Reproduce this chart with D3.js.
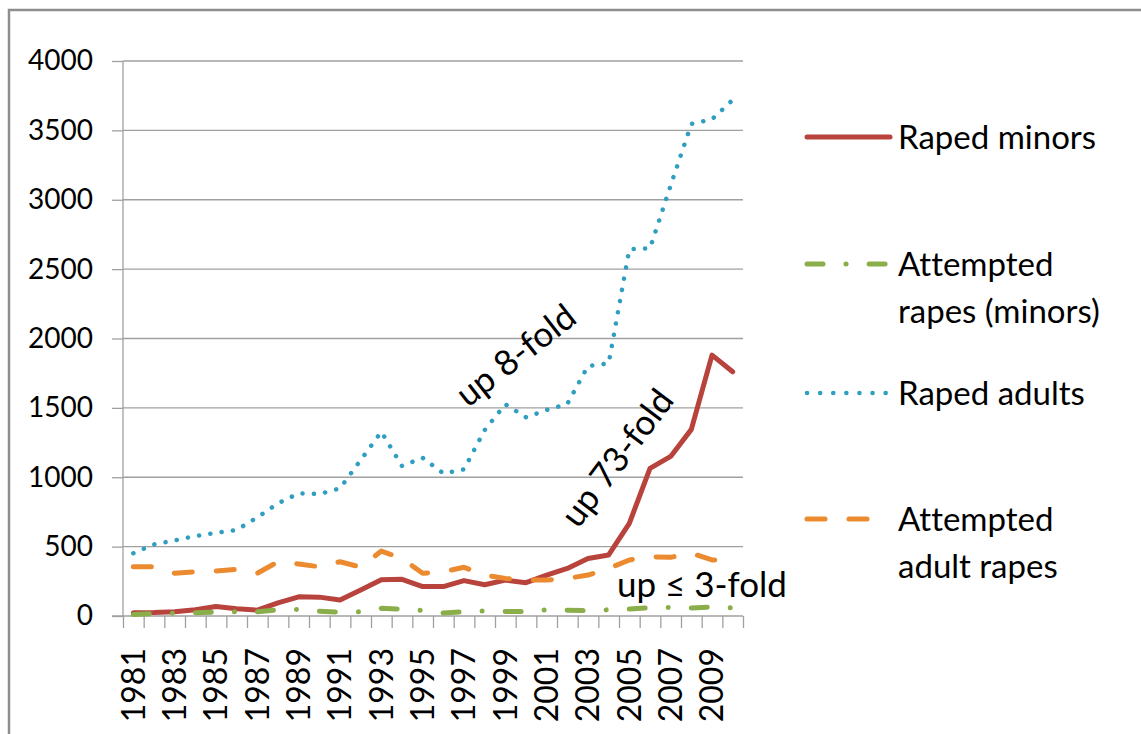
<!DOCTYPE html>
<html>
<head>
<meta charset="utf-8">
<script src="https://cdn.jsdelivr.net/npm/d3@7/dist/d3.min.js"></script>
<style>
  body { margin: 0; background: #fff; }
  text { font-family: Lato, "Open Sans", sans-serif; fill: #000; font-variant-ligatures: none; }
</style>
</head>
<body>
<svg class="chart" width="1141" height="734"></svg>
<script>
var years = [1981, 1982, 1983, 1984, 1985, 1986, 1987, 1988, 1989, 1990,
             1991, 1992, 1993, 1994, 1995, 1996, 1997, 1998, 1999, 2000,
             2001, 2002, 2003, 2004, 2005, 2006, 2007, 2008, 2009, 2010];

var rapedMinors = [24, 25, 30, 45, 68, 52, 42, 95, 138, 136,
                   115, 187, 262, 264, 212, 212, 255, 225, 259, 240,
                   295, 343, 415, 440, 668, 1064, 1150, 1345, 1880, 1760];

var attemptedMinors = [10, 18, 20, 24, 28, 30, 30, 45, 48, 35,
                       28, 30, 55, 50, 40, 22, 30, 36, 32, 32,
                       45, 42, 38, 45, 50, 60, 62, 58, 65, 58];

var rapedAdults = [452, 516, 545, 576, 600, 620, 711, 812, 884, 879,
                   920, 1124, 1328, 1081, 1140, 1028, 1057, 1340, 1526, 1432,
                   1485, 1528, 1802, 1821, 2643, 2650, 3104, 3546, 3580, 3719];

var attemptedAdults = [355, 355, 308, 319, 325, 336, 308, 391, 375, 355,
                       391, 352, 468, 415, 308, 319, 351, 295, 271, 259,
                       259, 271, 295, 343, 404, 427, 423, 452, 404, 404];

var seriesNames = ["Raped minors", "Attempted rapes (minors)", "Raped adults", "Attempted adult rapes"];
var yTicks = [0, 500, 1000, 1500, 2000, 2500, 3000, 3500, 4000];

// annotation text: [label, year position, value position, angle]
var notes = [
  ["up 8-fold", 1999.5, 1880, -38],
  ["up 73-fold", 2004.4, 1140, -53]
];

var svg = d3.select(".chart"),
    plotLeft = 123, plotRight = 743, plotTop = 61, plotBottom = 616;

var x = d3.scaleBand().domain(years).range([plotLeft, plotRight]).padding(0);
var xYear = d3.scaleLinear().domain([1980.5, 2010.5]).range([plotLeft, plotRight]);
var y = d3.scaleLinear().domain([0, 4000]).range([plotBottom, plotTop]);

function cx(d) { return x(d) + x.bandwidth() / 2; }

// outer frame
svg.append("rect")
    .attr("x", 9).attr("y", 10)
    .attr("width", 1200).attr("height", 800)
    .attr("fill", "none")
    .attr("stroke", "#8e8e8e")
    .attr("stroke-width", 2.5);

// gridlines
svg.append("g")
    .selectAll("line")
    .data(yTicks.slice(1))
    .enter().append("line")
      .attr("x1", plotLeft).attr("x2", plotRight)
      .attr("y1", function(d) { return y(d); })
      .attr("y2", function(d) { return y(d); })
      .attr("stroke", "#a0a0a0")
      .attr("stroke-width", 1.3);

// y axis
var yAxis = svg.append("g")
    .attr("transform", "translate(" + plotLeft + ",0)")
    .call(d3.axisLeft(y).tickValues(yTicks).tickSize(11).tickPadding(19).tickFormat(d3.format("d")));
yAxis.selectAll("line, path").attr("stroke", "#a0a0a0").attr("stroke-width", 1.3);
yAxis.select(".domain").attr("d", "M0," + plotBottom + "V" + plotTop);
yAxis.selectAll("text")
    .style("font-family", "Lato, sans-serif")
    .style("font-size", "28px")
    .attr("fill", "#000");

// x axis line + boundary ticks
var xAxis = svg.append("g")
    .attr("transform", "translate(0," + plotBottom + ")")
    .call(d3.axisBottom(xYear)
      .tickValues(years.map(function(d) { return d - 0.5; }).concat([2010.5]))
      .tickSize(12)
      .tickFormat(""));
xAxis.selectAll("line, path").attr("stroke", "#a0a0a0").attr("stroke-width", 1.3);
xAxis.select(".domain").attr("d", "M" + (plotLeft - 11) + ",0H" + plotRight);

// x labels (every other year)
svg.append("g")
    .selectAll("text")
    .data(years.filter(function(d, i) { return i % 2 === 0; }))
    .enter().append("text")
      .attr("transform", function(d) { return "translate(" + cx(d) + ",648) rotate(-90)"; })
      .attr("text-anchor", "end")
      .attr("dy", "0.35em")
      .style("font-size", "32px")
      .text(function(d) { return d; });

var styles = [
  { color: "#b8433c", width: 5, dash: null },
  { color: "#8aae4a", width: 5, dash: "16 23 0.1 23" },
  { color: "#2f9ec0", width: 4.5, dash: "0.1 11.3" },
  { color: "#ec8a30", width: 5, dash: "18 24" }
];
var allSeries = [rapedMinors, attemptedMinors, rapedAdults, attemptedAdults];

var line = d3.line()
    .x(function(d, i) { return cx(years[i]); })
    .y(function(d) { return y(d); });

svg.append("g")
    .selectAll("path")
    .data(allSeries)
    .enter().append("path")
      .attr("d", line)
      .attr("fill", "none")
      .attr("stroke", function(d, i) { return styles[i].color; })
      .attr("stroke-width", function(d, i) { return styles[i].width; })
      .attr("stroke-dasharray", function(d, i) { return styles[i].dash; })
      .attr("stroke-linecap", "round")
      .attr("stroke-linejoin", "round");

// annotations
svg.append("g")
    .selectAll("text")
    .data(notes)
    .enter().append("text")
      .attr("transform", function(d) {
        return "translate(" + xYear(d[1]) + "," + y(d[2]) + ") rotate(" + d[3] + ")";
      })
      .attr("text-anchor", "middle")
      .attr("dy", "0.35em")
      .style("font-size", "35px")
      .text(function(d) { return d[0]; });

svg.append("text")
    .attr("x", xYear(2004.4))
    .attr("y", y(137))
    .style("font-size", "35px")
    .text("up \u2264 3-fold");

// legend
var legendRows = [
  { y: 137, lines: ["Raped minors"] },
  { y: 264, lines: ["Attempted", "rapes (minors)"] },
  { y: 393, lines: ["Raped adults"] },
  { y: 519, lines: ["Attempted", "adult rapes"] }
];

var legend = svg.append("g");
legendRows.forEach(function(row, i) {
  legend.append("line")
      .attr("x1", 807).attr("x2", i === 3 ? 872 : 890)
      .attr("y1", row.y).attr("y2", row.y)
      .attr("stroke", styles[i].color)
      .attr("stroke-width", styles[i].width)
      .attr("stroke-dasharray", i === 2 ? "0.1 13" : styles[i].dash)
      .attr("stroke-linecap", "round");
  row.lines.forEach(function(t, j) {
    legend.append("text")
        .attr("x", 898)
        .attr("y", row.y + j * 47)
        .attr("dy", "0.35em")
        .style("font-size", "33px")
        .text(t);
  });
});
</script>
</body>
</html>
